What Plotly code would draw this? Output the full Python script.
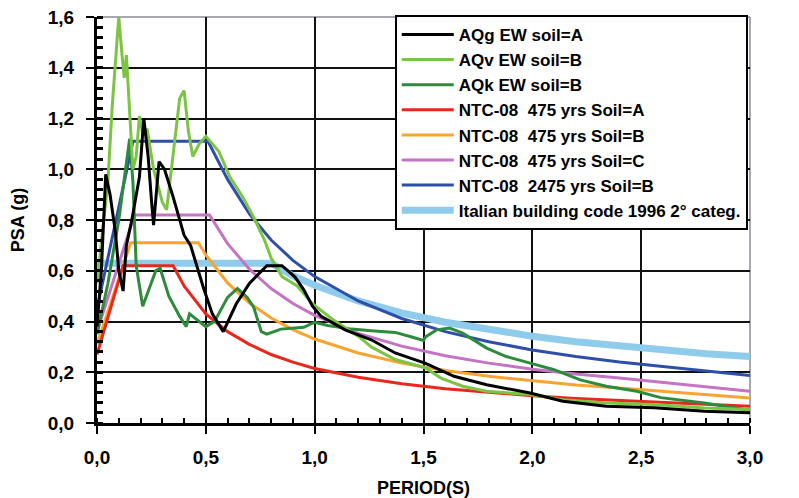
import plotly.graph_objects as go

# ---------------- data ----------------
aqg_T = [0.0, 0.02, 0.04, 0.06, 0.085, 0.10, 0.12, 0.135, 0.16, 0.195, 0.215, 0.235, 0.25, 0.26,
         0.285, 0.31, 0.35, 0.38, 0.40, 0.43, 0.46, 0.49, 0.53, 0.58, 0.64, 0.70, 0.78, 0.85,
         0.91, 0.95, 0.99, 1.03, 1.14, 1.26, 1.37, 1.46, 1.51, 1.64, 1.79, 1.99, 2.14, 2.34,
         2.56, 2.79, 3.0]
aqg_psa = [0.38, 0.60, 0.98, 0.90, 0.75, 0.60, 0.52, 0.70, 0.80, 0.97, 1.20, 1.05, 0.88, 0.78,
           1.03, 1.00, 0.89, 0.80, 0.74, 0.70, 0.61, 0.53, 0.43, 0.36, 0.47, 0.55, 0.62, 0.62,
           0.575, 0.525, 0.46, 0.42, 0.367, 0.328, 0.276, 0.25, 0.235, 0.184, 0.151, 0.118,
           0.086, 0.066, 0.06, 0.046, 0.04]

aqv_T = [0.0, 0.02, 0.05, 0.07, 0.09, 0.10, 0.115, 0.125, 0.135, 0.15, 0.165, 0.18, 0.195, 0.21,
         0.23, 0.26, 0.30, 0.32, 0.35, 0.38, 0.40, 0.42, 0.44, 0.47, 0.50, 0.53, 0.56, 0.61,
         0.67, 0.72, 0.77, 0.80, 0.85, 0.92, 0.99, 1.08, 1.21, 1.26, 1.37, 1.51, 1.58, 1.68,
         1.79, 1.99, 2.14, 2.34, 2.56, 2.79, 3.0]
aqv_psa = [0.55, 0.70, 0.95, 1.25, 1.50, 1.60, 1.45, 1.36, 1.45, 1.20, 1.00, 1.05, 1.21, 1.14,
           1.16, 1.00, 0.87, 0.84, 1.05, 1.28, 1.31, 1.15, 1.05, 1.10, 1.13, 1.10, 1.07, 0.97,
           0.89, 0.81, 0.72, 0.65, 0.577, 0.54, 0.47, 0.41, 0.336, 0.30, 0.25, 0.217, 0.177,
           0.145, 0.125, 0.112, 0.092, 0.079, 0.073, 0.059, 0.053]

aqk_T = [0.0, 0.05, 0.10, 0.13, 0.15, 0.165, 0.18, 0.21, 0.24, 0.27, 0.29, 0.33, 0.38, 0.41,
         0.425, 0.455, 0.50, 0.54, 0.60, 0.645, 0.69, 0.72, 0.755, 0.78, 0.845, 0.95, 1.0,
         1.06, 1.17, 1.26, 1.37, 1.45, 1.50, 1.51, 1.56, 1.62, 1.68, 1.79, 1.88, 1.99, 2.10,
         2.22, 2.34, 2.48, 2.59, 2.79, 3.0]
aqk_psa = [0.35, 0.55, 0.80, 1.00, 1.12, 0.95, 0.62, 0.46, 0.53, 0.60, 0.61, 0.50, 0.42, 0.38,
           0.43, 0.41, 0.38, 0.40, 0.495, 0.53, 0.495, 0.456, 0.36, 0.35, 0.37, 0.377, 0.397,
           0.384, 0.37, 0.364, 0.357, 0.338, 0.325, 0.34, 0.367, 0.374, 0.354, 0.295, 0.262,
           0.236, 0.21, 0.17, 0.145, 0.125, 0.10, 0.079, 0.05]

ntcA_T = [0.0, 0.12, 0.35, 0.40, 0.50, 0.60, 0.70, 0.80, 0.90, 1.0, 1.2, 1.4, 1.6, 1.8, 2.0,
          2.2, 2.4, 2.6, 2.8, 3.0]
ntcA_psa = [0.27, 0.62, 0.62, 0.54, 0.43, 0.36, 0.31, 0.27, 0.24, 0.215, 0.18, 0.155, 0.135,
            0.12, 0.107, 0.097, 0.089, 0.081, 0.073, 0.066]

ntcB_T = [0.0, 0.155, 0.466, 0.50, 0.60, 0.70, 0.80, 0.90, 1.0, 1.2, 1.4, 1.6, 1.8, 2.0, 2.2,
          2.4, 2.6, 2.8, 3.0]
ntcB_psa = [0.31, 0.71, 0.71, 0.662, 0.552, 0.473, 0.414, 0.368, 0.331, 0.276, 0.236, 0.207,
            0.184, 0.166, 0.15, 0.138, 0.125, 0.11, 0.099]

ntcC_T = [0.0, 0.172, 0.517, 0.60, 0.70, 0.80, 0.90, 1.0, 1.2, 1.4, 1.6, 1.8, 2.0, 2.2, 2.4,
          2.6, 2.8, 3.0]
ntcC_psa = [0.36, 0.82, 0.82, 0.707, 0.606, 0.53, 0.471, 0.424, 0.353, 0.303, 0.265, 0.236,
            0.212, 0.193, 0.177, 0.16, 0.142, 0.125]

ntc2475_T = [0.0, 0.165, 0.51, 0.60, 0.70, 0.80, 0.90, 1.0, 1.2, 1.4, 1.6, 1.8, 2.0, 2.2, 2.4,
             2.6, 2.8, 3.0]
ntc2475_psa = [0.45, 1.11, 1.11, 0.96, 0.824, 0.721, 0.641, 0.577, 0.481, 0.412, 0.36, 0.32,
               0.288, 0.262, 0.24, 0.222, 0.205, 0.187]

ita_T = [0.0, 0.8, 0.9, 1.0, 1.2, 1.4, 1.6, 1.8, 2.0, 2.2, 2.4, 2.6, 2.8, 3.0]
ita_psa = [0.63, 0.63, 0.58, 0.543, 0.481, 0.434, 0.397, 0.367, 0.342, 0.32, 0.303, 0.287,
           0.273, 0.262]

series = [
    ("AQg EW soil=A", aqg_T, aqg_psa, "#000000", 3),
    ("AQv EW soil=B", aqv_T, aqv_psa, "#7cc443", 3),
    ("AQk EW soil=B", aqk_T, aqk_psa, "#2e8a3c", 3),
    ("NTC-08  475 yrs Soil=A", ntcA_T, ntcA_psa, "#e8281c", 3),
    ("NTC-08  475 yrs Soil=B", ntcB_T, ntcB_psa, "#f7a530", 3),
    ("NTC-08  475 yrs Soil=C", ntcC_T, ntcC_psa, "#c474c2", 3),
    ("NTC-08  2475 yrs Soil=B", ntc2475_T, ntc2475_psa, "#2d4fa8", 3),
    ("Italian building code 1996 2° categ.", ita_T, ita_psa, "#8fcbea", 7),
]

fig = go.Figure()
traces = {}
for i, (name, xs, ys, col, w) in enumerate(series):
    traces[i] = go.Scatter(x=xs, y=ys, mode="lines", name=name,
                           line=dict(color=col, width=w), legendrank=i + 1)
# draw order: thick light-blue first, then the others
for i in [7, 6, 5, 4, 3, 2, 1, 0]:
    fig.add_trace(traces[i])

font = "Liberation Sans, Arial, sans-serif"
# the page body has an 8px margin, so the figure is sized/placed to compensate
fig.update_layout(
    width=791, height=490,
    margin=dict(l=89, r=49, t=7, b=75),
    paper_bgcolor="white", plot_bgcolor="white",
    separators=",.",
    font=dict(family=font, color="black"),
    showlegend=True,
    legend=dict(x=0.456, y=1.005, xanchor="left", yanchor="top",
                bgcolor="white", bordercolor="black", borderwidth=2,
                font=dict(family=font, size=17, color="black", weight="bold"),
                itemwidth=52, traceorder="normal", tracegroupgap=0,
                entrywidth=400, entrywidthmode="pixels"),
)
fig.update_xaxes(
    range=[0, 3], dtick=0.5, tick0=0, tickformat=".1f", automargin=False,
    showgrid=True, gridcolor="#111111", gridwidth=2,
    showline=True, linecolor="black", linewidth=3, zeroline=False,
    ticks="outside", ticklen=8, tickwidth=2, tickcolor="black",
    tickfont=dict(family=font, size=19, color="black", weight="bold"),
    ticklabelstandoff=7, ticklabeloverflow="allow",
    minor=dict(dtick=0.1, ticks="inside", ticklen=5, tickwidth=2, tickcolor="black", showgrid=False),
    title=dict(text="PERIOD(S)", font=dict(family=font, size=18, weight="bold"), standoff=16),
)
fig.update_yaxes(
    range=[0, 1.6], dtick=0.2, tick0=0, tickformat=".1f", automargin=False,
    showgrid=True, gridcolor="#111111", gridwidth=2,
    showline=True, linecolor="black", linewidth=3, zeroline=False,
    ticks="outside", ticklen=8, tickwidth=2, tickcolor="black",
    tickfont=dict(family=font, size=19, color="black", weight="bold"),
    ticklabelstandoff=8, ticklabeloverflow="allow",
    minor=dict(dtick=0.04, ticks="inside", ticklen=6, tickwidth=3, tickcolor="black", showgrid=False),
    title=dict(text="PSA (g)", font=dict(family=font, size=18, weight="bold"), standoff=20),
)
# light grey frame at top and right
fig.add_shape(type="line", xref="paper", yref="paper", x0=0, x1=1, y0=1, y1=1,
              line=dict(color="#a8a8b0", width=2), layer="between")
fig.add_shape(type="line", xref="paper", yref="paper", x0=1, x1=1, y0=0, y1=1,
              line=dict(color="#a8a8b0", width=2), layer="between")

fig.write_html("out.html")
